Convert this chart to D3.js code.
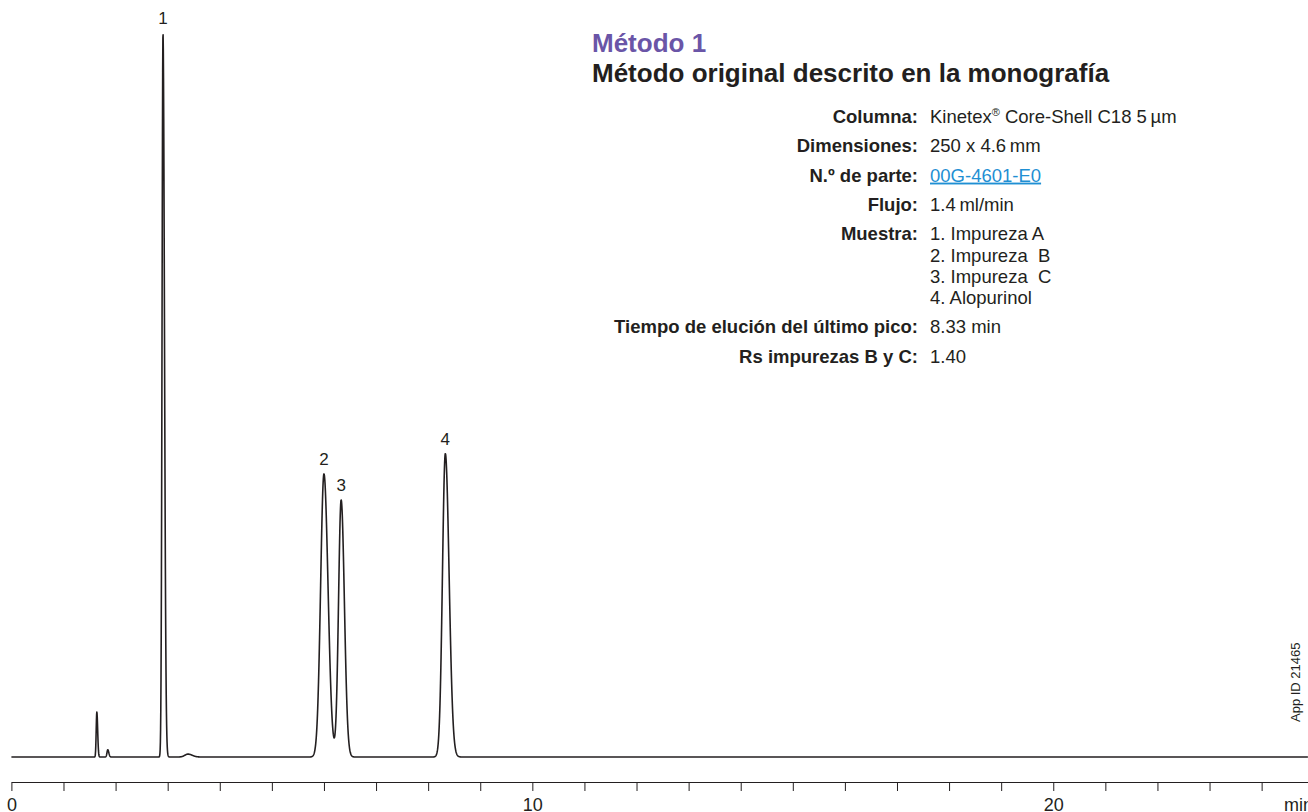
<!DOCTYPE html>
<html>
<head>
<meta charset="utf-8">
<script src="https://cdn.jsdelivr.net/npm/d3@7"></script>
<style>
  html, body { margin: 0; padding: 0; background: #fff; }
  svg { display: block; font-family: "Liberation Sans", Arial, Helvetica, sans-serif; }
  .pre { white-space: pre; }
</style>
</head>
<body>
<svg id="chart" width="1308" height="812"></svg>
<script>
// Chromatogram peaks: retention time (min), height (relative to peak 1),
// front and tail widths (min, Gaussian sigma on each side) and peak number.
const peakTimes      = [1.64, 1.85, 2.91, 3.39, 6.00, 6.33, 8.33];
const peakHeights    = [6.2, 1.0, 100, 0.4, 39.1, 35.5, 41.9];
const peakFrontWidth = [0.012, 0.015, 0.018, 0.06, 0.064, 0.05, 0.055];
const peakTailWidth  = [0.016, 0.02, 0.028, 0.08, 0.078, 0.062, 0.072];
const peakLabels     = ["", "", "1", "", "2", "3", "4"];

// Time axis
const axisTicks  = d3.range(0, 25, 1);
const axisLabels = [0, 10, 20];
const axisUnit   = "min";

// Method panel
const methodNumber = "Método 1";
const methodTitle  = "Método original descrito en la monografía";
const infoLabels = ["Columna:", "Dimensiones:", "N.º de parte:", "Flujo:", "Muestra:",
                    "Tiempo de elución del último pico:", "Rs impurezas B y C:"];
const infoValues = [
  ["Kinetex|® Core-Shell C18 5\u2009µm"],
  ["250 x 4.6\u2009mm"],
  ["00G-4601-E0"],
  ["1.4\u2009ml/min"],
  ["1. Impureza A", "2. Impureza  B", "3. Impureza  C", "4. Alopurinol"],
  ["8.33 min"],
  ["1.40"]
];
const linkRow = 2;
const appId = "App ID 21465";

const svg = d3.select("#chart");
const ink = "#231f20";

const x = d3.scaleLinear().domain([0, 24.89]).range([11.4, 1308]);
const y = d3.scaleLinear().domain([0, 100]).range([757, 33]);

// Trace = sum of asymmetric Gaussian peaks
const peaks = peakTimes.map((t, i) => ({
  t, h: peakHeights[i], sf: peakFrontWidth[i], st: peakTailWidth[i], label: peakLabels[i]
}));
function signal(t) {
  let s = 0;
  for (const p of peaks) {
    const d = t - p.t;
    const sg = d < 0 ? p.sf : p.st;
    const z = d / sg;
    if (Math.abs(z) < 12) s += p.h * Math.exp(-0.5 * z * z);
  }
  return s;
}
const times = d3.range(0, 24.89, 0.004);
const trace = times.map(t => [t, signal(t)]);

svg.append("path")
  .datum(trace)
  .attr("fill", "none")
  .attr("stroke", ink)
  .attr("stroke-width", 1.6)
  .attr("stroke-linejoin", "round")
  .attr("d", d3.line().x(d => x(d[0])).y(d => y(d[1])));

// Peak numbers
svg.append("g").selectAll("text")
  .data(peaks.filter(p => p.label))
  .join("text")
  .attr("x", p => x(p.t))
  .attr("y", p => y(p.h) - 9)
  .attr("text-anchor", "middle")
  .attr("font-size", 17)
  .attr("fill", ink)
  .text(p => p.label);

// Time axis
const axis = d3.axisBottom(x)
  .tickValues(axisTicks)
  .tickSize(9)
  .tickSizeOuter(0)
  .tickFormat(d => axisLabels.includes(d) ? d : "");
const gAxis = svg.append("g").attr("transform", "translate(0,782)").call(axis);
gAxis.select(".domain").attr("stroke", ink).attr("stroke-width", 1.2);
gAxis.selectAll(".tick line").attr("stroke", ink).attr("stroke-width", 1);
gAxis.selectAll(".tick text")
  .attr("font-size", 18)
  .attr("font-family", "Liberation Sans, Arial, sans-serif")
  .attr("fill", ink)
  .attr("dy", null)
  .attr("y", 29);
svg.append("text")
  .attr("x", 1284).attr("y", 811)
  .attr("font-size", 18).attr("fill", ink)
  .text(axisUnit);

// App ID, rotated
svg.append("text")
  .attr("transform", "translate(1300,722) rotate(-90)")
  .attr("font-size", 13).attr("fill", ink)
  .text(appId);

// Method panel
svg.append("text")
  .attr("x", 592).attr("y", 52)
  .attr("font-size", 26).attr("font-weight", "bold").attr("fill", "#6a55a7")
  .text(methodNumber);
svg.append("text")
  .attr("x", 592).attr("y", 82)
  .attr("font-size", 26).attr("font-weight", "bold").attr("fill", ink)
  .text(methodTitle);

const labelX = 918, valueX = 930;
const rowGap = 29.3, lineGap = 21.3;
let rowY = 123;
infoLabels.forEach((lab, i) => {
  svg.append("text")
    .attr("x", labelX).attr("y", rowY)
    .attr("text-anchor", "end")
    .attr("font-size", 18.5).attr("font-weight", "bold").attr("fill", ink)
    .text(lab);
  infoValues[i].forEach((line, j) => {
    const t = svg.append("text")
      .attr("class", "pre")
      .attr("x", valueX).attr("y", rowY + j * lineGap)
      .attr("font-size", 18.5)
      .attr("fill", i === linkRow ? "#1f8fd3" : ink);
    if (i === linkRow) t.attr("text-decoration", "underline");
    const parts = line.split("|");
    if (parts.length > 1) {
      t.append("tspan").text(parts[0]);
      t.append("tspan").attr("font-size", 11).attr("dy", -7).text(parts[1].slice(0, 1));
      t.append("tspan").attr("dy", 7).text(parts[1].slice(1));
    } else {
      t.text(line);
    }
  });
  rowY += (infoValues[i].length - 1) * lineGap + rowGap;
});
</script>
</body>
</html>
